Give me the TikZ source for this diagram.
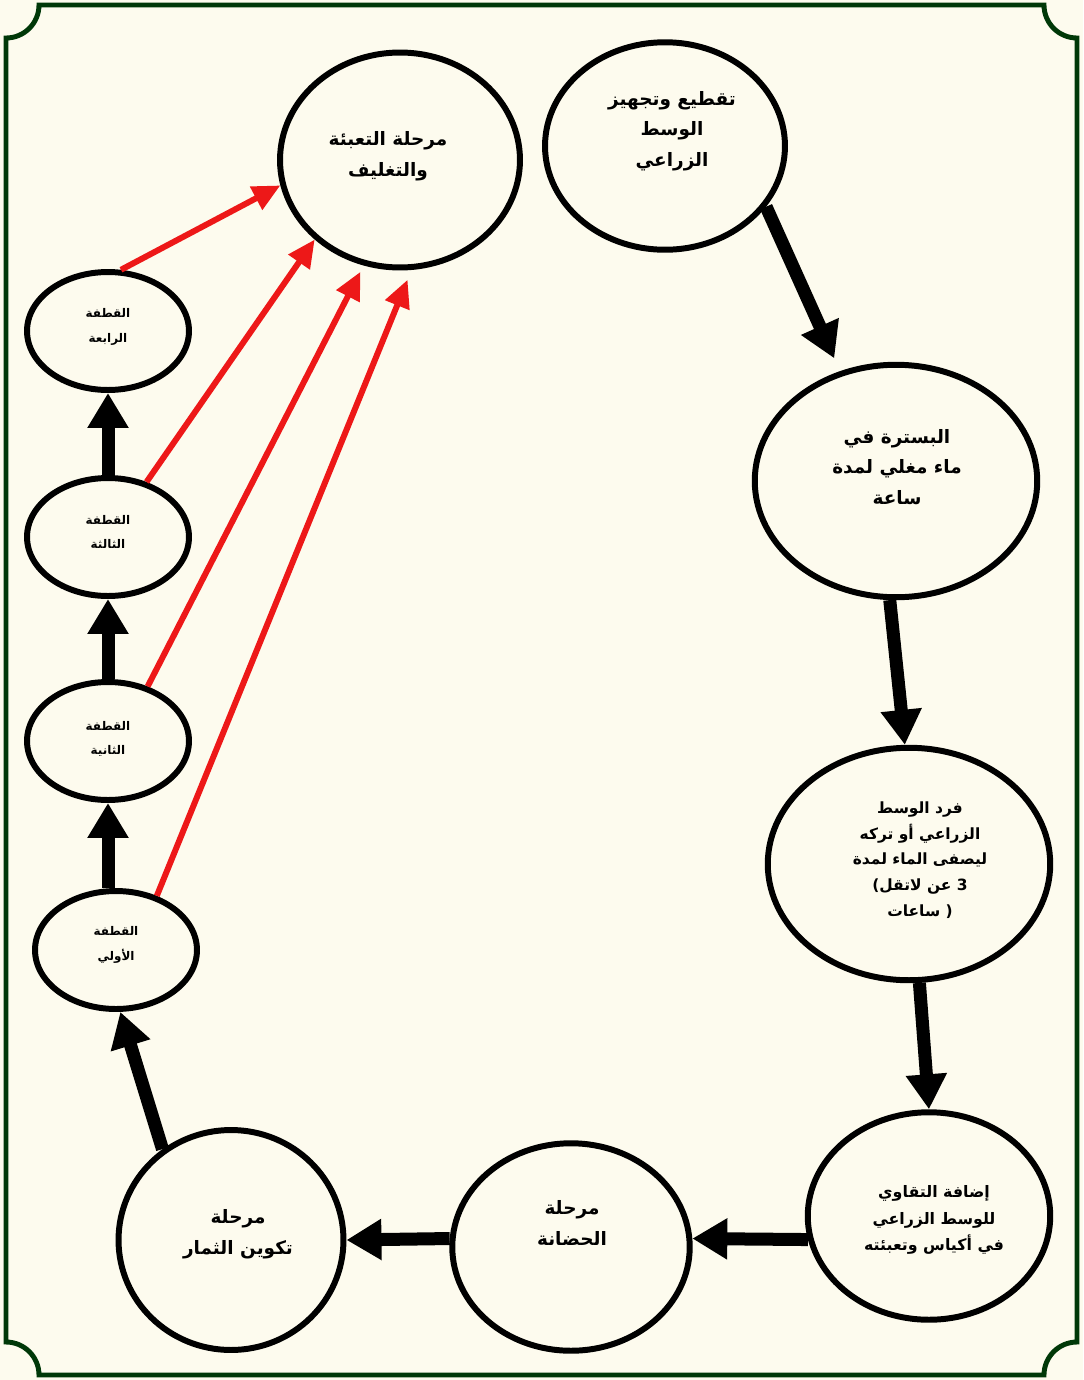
\documentclass[tikz,border=0pt]{standalone}
\usepackage{fontspec}
\usepackage{tikz}
\usepackage{xcolor}
\usetikzlibrary{
    arrows.meta,
    shapes.geometric
}
\TeXXeTstate=1
\newfontfamily\arabicfont[Script=Arabic]{DejaVu Sans}
\newfontfamily\plainfont{DejaVu Sans}
\newcommand{\ar}[1]{\beginR #1\endR}
\definecolor{paper}{RGB}{253,251,238}
\definecolor{framegreen}{RGB}{0,56,8}
\definecolor{arrowred}{RGB}{237,24,24}
\tikzset{
    stage/.style={ellipse, draw, line width=3.4pt, inner sep=0pt},
    pick/.style={stage, minimum width=3.24cm, minimum height=2.36cm},
    stagetext/.style={align=center, inner sep=0pt, font=\arabicfont\bfseries\fontsize{10.5}{17.5}\selectfont},
    picktext/.style={align=center, inner sep=0pt, font=\arabicfont\bfseries\fontsize{6.8}{14}\selectfont},
    flow/.style={line width=7.4pt, -{Triangle[length=0.7cm, width=0.78cm]}},
    pack/.style={arrowred, line width=3.4pt, -{Triangle[length=0.55cm, width=0.5cm]}}
}

\begin{document}
\begin{tikzpicture}[x=0.02cm, y=-0.02cm]
            \fill[paper] (0,0) rectangle (1083,1380);
            \useasboundingbox (0,0) rectangle (1083,1380);
            \draw[framegreen, line width=2.8pt] (39,5) -- (1044,5) arc[start angle=180, end angle=90, radius=33]
                -- (1077,1342) arc[start angle=270, end angle=180, radius=33]
                -- (39,1375) arc[start angle=0, end angle=-90, radius=33]
                -- (6,38) arc[start angle=90, end angle=0, radius=33] -- cycle;

            \node[stage, minimum width=4.8cm, minimum height=4.3cm] (pack) at (400,160) {};
            \node[stagetext] (packtext) at (388,156) {\ar{مرحلة التعبئة}\\ \ar{والتغليف}};
            \node[stage, minimum width=4.8cm, minimum height=4.15cm] (cut) at (665,146) {};
            \node[stagetext] (cuttext) at (672,131) {\ar{تقطيع وتجهيز}\\ \ar{الوسط}\\ \ar{الزراعي}};
            \node[stage, minimum width=5.65cm, minimum height=4.65cm] (past) at (896,481) {};
            \node[stagetext] (pasttext) at (897,467) {\ar{البسترة في}\\ \ar{ماء مغلي لمدة}\\ \ar{ساعة}};
            \node[stage, minimum width=5.65cm, minimum height=4.65cm] (spread) at (909,864) {};
            \node[stagetext, font=\arabicfont\bfseries\fontsize{8.8}{14.7}\selectfont] (spreadtext) at (920,860)
                {\ar{فرد الوسط}\\ \ar{الزراعي أو تركه}\\ \ar{ليصفى الماء لمدة}\\
                 {\plainfont\bfseries (}\ar{لاتقل} \ar{عن} {\plainfont\bfseries 3}\\ \ar{ساعات} {\plainfont\bfseries )}};
            \node[stage, minimum width=4.85cm, minimum height=4.15cm] (seed) at (929,1216) {};
            \node[stagetext, font=\arabicfont\bfseries\fontsize{9}{15.3}\selectfont] (seedtext) at (934,1220)
                {\ar{إضافة التقاوي}\\ \ar{للوسط الزراعي}\\ \ar{في أكياس وتعبئته}};
            \node[stage, minimum width=4.75cm, minimum height=4.15cm] (nurse) at (571,1247) {};
            \node[stagetext] (nursetext) at (572,1223) {\ar{مرحلة}\\ \ar{الحضانة}};
            \node[stage, minimum width=4.5cm, minimum height=4.4cm] (fruit) at (231,1240) {};
            \node[stagetext] (fruittext) at (238,1234) {\ar{مرحلة}\\ \ar{تكوين الثمار}};

            \node[pick] (p1) at (116,950) {};
            \node[picktext] (p1text) at (116,945) {\ar{القطفة}\\ \ar{الأولي}};
            \node[pick] (p2) at (108,741) {};
            \node[picktext] (p2text) at (108,739) {\ar{القطفة}\\ \ar{الثانية}};
            \node[pick] (p3) at (108,537) {};
            \node[picktext] (p3text) at (108,532) {\ar{القطفة}\\ \ar{الثالثة}};
            \node[pick] (p4) at (108,331) {};
            \node[picktext] (p4text) at (108,327) {\ar{القطفة}\\ \ar{الرابعة}};

            \draw[flow, shorten >=8pt] (cut.-31) -- (past.117);
            \draw[flow] (past.-93) -- (spread.92);
            \draw[flow] (spread.-85) -- (seed.90);
            \draw[flow] (seed.191) -- (nurse.4);
            \draw[flow] (nurse.176) -- (fruit.0);
            \draw[flow] (fruit.127) -- (p1.-86);
            \foreach \a/\b in {p1/p2, p2/p3, p3/p4}
                \draw[flow] (\a.north -| \b.south) -- (\b.south);

            \draw[pack] (p4.78) -- (pack.192);
            \draw[pack] (p3.55) -- (pack.223);
            \draw[pack, shorten >=4pt] (p2.54) -- (pack.251);
            \draw[pack, shorten >=6pt] (p1.53) -- (pack.-84);
        \end{tikzpicture}
\end{document}
